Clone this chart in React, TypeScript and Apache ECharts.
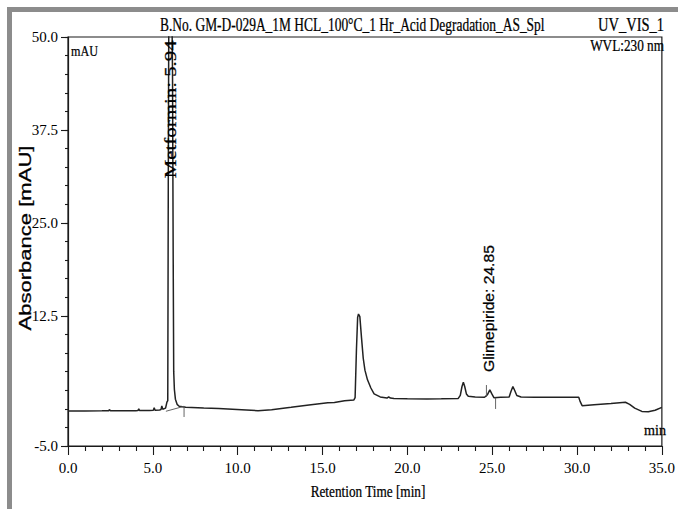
import React, { useEffect, useRef } from "react";
import * as echarts from "echarts";

// Retention time [min], absorbance [mAU]
const chromatogram: [number, number][] = [
  [0, -0.28], [1.0, -0.28], [2.0, -0.27], [2.4, -0.25], [2.45, -0.1], [2.5, -0.26],
  [3.0, -0.26], [4.0, -0.25], [4.12, -0.24], [4.17, 0.0], [4.22, -0.24], [4.8, -0.22],
  [5.03, -0.2], [5.08, 0.15], [5.13, -0.18], [5.4, -0.15], [5.48, -0.1], [5.53, 0.4],
  [5.58, -0.05], [5.75, 0.1], [5.83, 0.9], [5.88, 1.1], [5.91, 30], [5.95, 60],
  [6.02, 64], [6.1, 60], [6.16, 45], [6.2, 20], [6.23, 5], [6.27, 2.6], [6.33, 1.3],
  [6.43, 0.6], [6.55, 0.35], [6.94, 0.2], [8.0, 0.1], [8.88, 0.05], [10.23, -0.12],
  [11.2, -0.25], [12.0, -0.12], [13.15, 0.2], [14.2, 0.5], [15.31, 0.8], [15.7, 0.85],
  [16.3, 1.1], [16.85, 1.2], [16.92, 1.5], [17.0, 8], [17.07, 12.3], [17.12, 12.75],
  [17.2, 12.4], [17.3, 9.5], [17.4, 6.8], [17.5, 5.2], [17.65, 3.9], [17.85, 2.8],
  [18.04, 2.0], [18.4, 1.6], [18.8, 1.45], [18.9, 1.6], [19.0, 1.45], [19.21, 1.4],
  [20.0, 1.35], [21.16, 1.32], [22.0, 1.35], [23.0, 1.4], [23.12, 1.8], [23.22, 3.0],
  [23.3, 3.57], [23.38, 3.0], [23.48, 2.0], [23.59, 1.68], [24.0, 1.6], [24.55, 1.55],
  [24.72, 1.9], [24.86, 2.55], [24.98, 2.0], [25.1, 1.5], [25.5, 1.55], [26.0, 1.6],
  [26.1, 2.3], [26.22, 3.0], [26.32, 2.5], [26.45, 1.8], [26.7, 1.6], [27.5, 1.57],
  [28.5, 1.55], [29.5, 1.55], [30.1, 1.55], [30.18, 1.0], [30.3, 0.42], [31.0, 0.55],
  [32.0, 0.72], [32.85, 0.88], [33.1, 0.6], [33.4, 0.1], [33.82, -0.35], [34.2, -0.39],
  [34.6, -0.2], [35.0, 0.2],
];

// Integration baseline / peak delimiter marks
const integrationMarks: [number, number][][] = [
  [[5.77, -0.33], [6.84, 0.34]],
  [[6.84, 0.34], [6.84, -1.1]],
  [[24.66, 1.6], [24.66, 3.2]],
  [[25.2, 1.5], [25.2, -0.02]],
];

// Peak annotations: text, retention time, absorbance where the label starts
const peakLabelTexts = ["Metformin: 5.94", "Glimepiride: 24.85"];
const peakLabelTimes = [6.05, 24.85];
const peakLabelStarts = [31.0, 4.95];

const yMajorTicks = [-5, 12.5, 25, 37.5, 50];
const yMinorTicks = [-5, -2.5, 0, 2.5, 5, 7.5, 10, 12.5, 15, 17.5, 20, 22.5, 25, 27.5, 30, 32.5, 35, 37.5, 40, 42.5, 45, 47.5, 50];

const titleText = "B.No. GM-D-029A_1M HCL_100°C_1 Hr_Acid Degradation_AS_Spl";
const channelText = "UV_VIS_1";
const wavelengthText = "WVL:230 nm";
const xAxisName = "Retention Time [min]";
const yAxisName = "Absorbance [mAU]";

const SERIF = '"Liberation Serif", "Times New Roman", serif';
const SANS = '"Liberation Sans", Arial, sans-serif';

function measure(text: string, size: number, family: string): number {
  const c = document.createElement("canvas").getContext("2d");
  if (!c) return text.length * size * 0.5;
  c.font = `${size}px ${family}`;
  return c.measureText(text).width;
}

export default function App() {
  const ref = useRef<HTMLDivElement>(null);
  useEffect(() => {
    if (!ref.current) return;
    const chart = echarts.init(ref.current, undefined, { renderer: "svg" });
    const gridLeft = 68, gridRight = 11, gridTop = 37, gridBottom = 63;
    chart.setOption({
      animation: false,
      backgroundColor: "#ffffff",
      grid: {
        left: gridLeft, right: gridRight, top: gridTop, bottom: gridBottom,
        show: true, borderColor: "#1a1a1a", borderWidth: 1.2,
      },
      xAxis: {
        type: "value", min: 0, max: 35, interval: 5,
        axisLine: { show: true, onZero: false, lineStyle: { color: "#1a1a1a", width: 1.2 } },
        axisTick: { show: true, length: 9, lineStyle: { color: "#1a1a1a", width: 1.1 } },
        minorTick: { show: true, splitNumber: 5, length: 5, lineStyle: { color: "#1a1a1a", width: 1.1 } },
        axisLabel: {
          margin: 14, color: "#000", fontFamily: SERIF, fontSize: 15,
          formatter: (v: number) => v.toFixed(1),
        },
        splitLine: { show: false },
      },
      yAxis: [
        {
          type: "value", min: -5, max: 50,
          axisLine: { show: true, onZero: false, lineStyle: { color: "#1a1a1a", width: 1.2 } },
          axisTick: { show: true, length: 7, customValues: yMajorTicks, lineStyle: { color: "#1a1a1a", width: 1.1 } },
          axisLabel: {
            margin: 10, color: "#000", fontFamily: SERIF, fontSize: 15,
            customValues: yMajorTicks,
            formatter: (v: number) => v.toFixed(1),
          },
          splitLine: { show: false },
        },
        {
          type: "value", min: -5, max: 50, position: "left",
          axisLine: { show: false },
          axisTick: { show: true, length: 3, customValues: yMinorTicks, lineStyle: { color: "#1a1a1a", width: 1.1 } },
          axisLabel: { show: false },
          splitLine: { show: false },
        },
      ],
      series: [
        {
          type: "line", data: chromatogram, showSymbol: false, clip: true,
          lineStyle: { color: "#222", width: 1.5 },
        },
        ...integrationMarks.map((seg) => ({
          type: "line", data: seg, showSymbol: false, clip: true,
          lineStyle: { color: "#555", width: 0.9 },
        })),
      ],
    });

    const texts: any[] = [];
    const fitText = (
      text: string, size: number, family: string, target: number,
      x: number, y: number, align: string, rotation = 0
    ) => {
      const w = measure(text, size, family);
      texts.push({
        type: "text", x, y, rotation, scaleX: target / w, scaleY: 1,
        style: {
          text, fill: "#000", font: `${size}px ${family}`,
          textAlign: align, textVerticalAlign: "middle",
          stroke: "#000", lineWidth: 0.25,
        },
        z: 10,
      });
    };

    fitText(titleText, 18, SERIF, 385, 160, 25, "left");
    fitText(channelText, 18, SERIF, 66, 664, 25, "right");
    fitText(wavelengthText, 16, SERIF, 74, 664, 46, "right");
    fitText("mAU", 15, SERIF, 27, 71, 51, "left");
    fitText("min", 15, SERIF, 22, 666, 430, "right");
    fitText(xAxisName, 16, SERIF, 115, 368, 492, "center");
    fitText(yAxisName, 16, SANS, 185, 26, 238, "center", Math.PI / 2);

    peakLabelTexts.forEach((t, i) => {
      const p = chart.convertToPixel({ gridIndex: 0 }, [peakLabelTimes[i], peakLabelStarts[i]]) as number[];
      const serif = i === 0;
      fitText(t, serif ? 16 : 14, serif ? SERIF : SANS, serif ? 138 : 127, p[0], p[1], "left", Math.PI / 2);
    });

    chart.setOption({
      graphic: [
        { type: "rect", shape: { x: 7, y: 7, width: 671, height: 5 }, style: { fill: "#8c8c8c" }, z: 20 },
        { type: "rect", shape: { x: 7, y: 7, width: 5, height: 502 }, style: { fill: "#8c8c8c" }, z: 20 },
        ...texts,
      ],
    });

    return () => chart.dispose();
  }, []);
  return (
    <div
      ref={ref}
      style={{ position: "absolute", left: 0, top: 0, width: 678, height: 509, background: "#fff" }}
    />
  );
}
